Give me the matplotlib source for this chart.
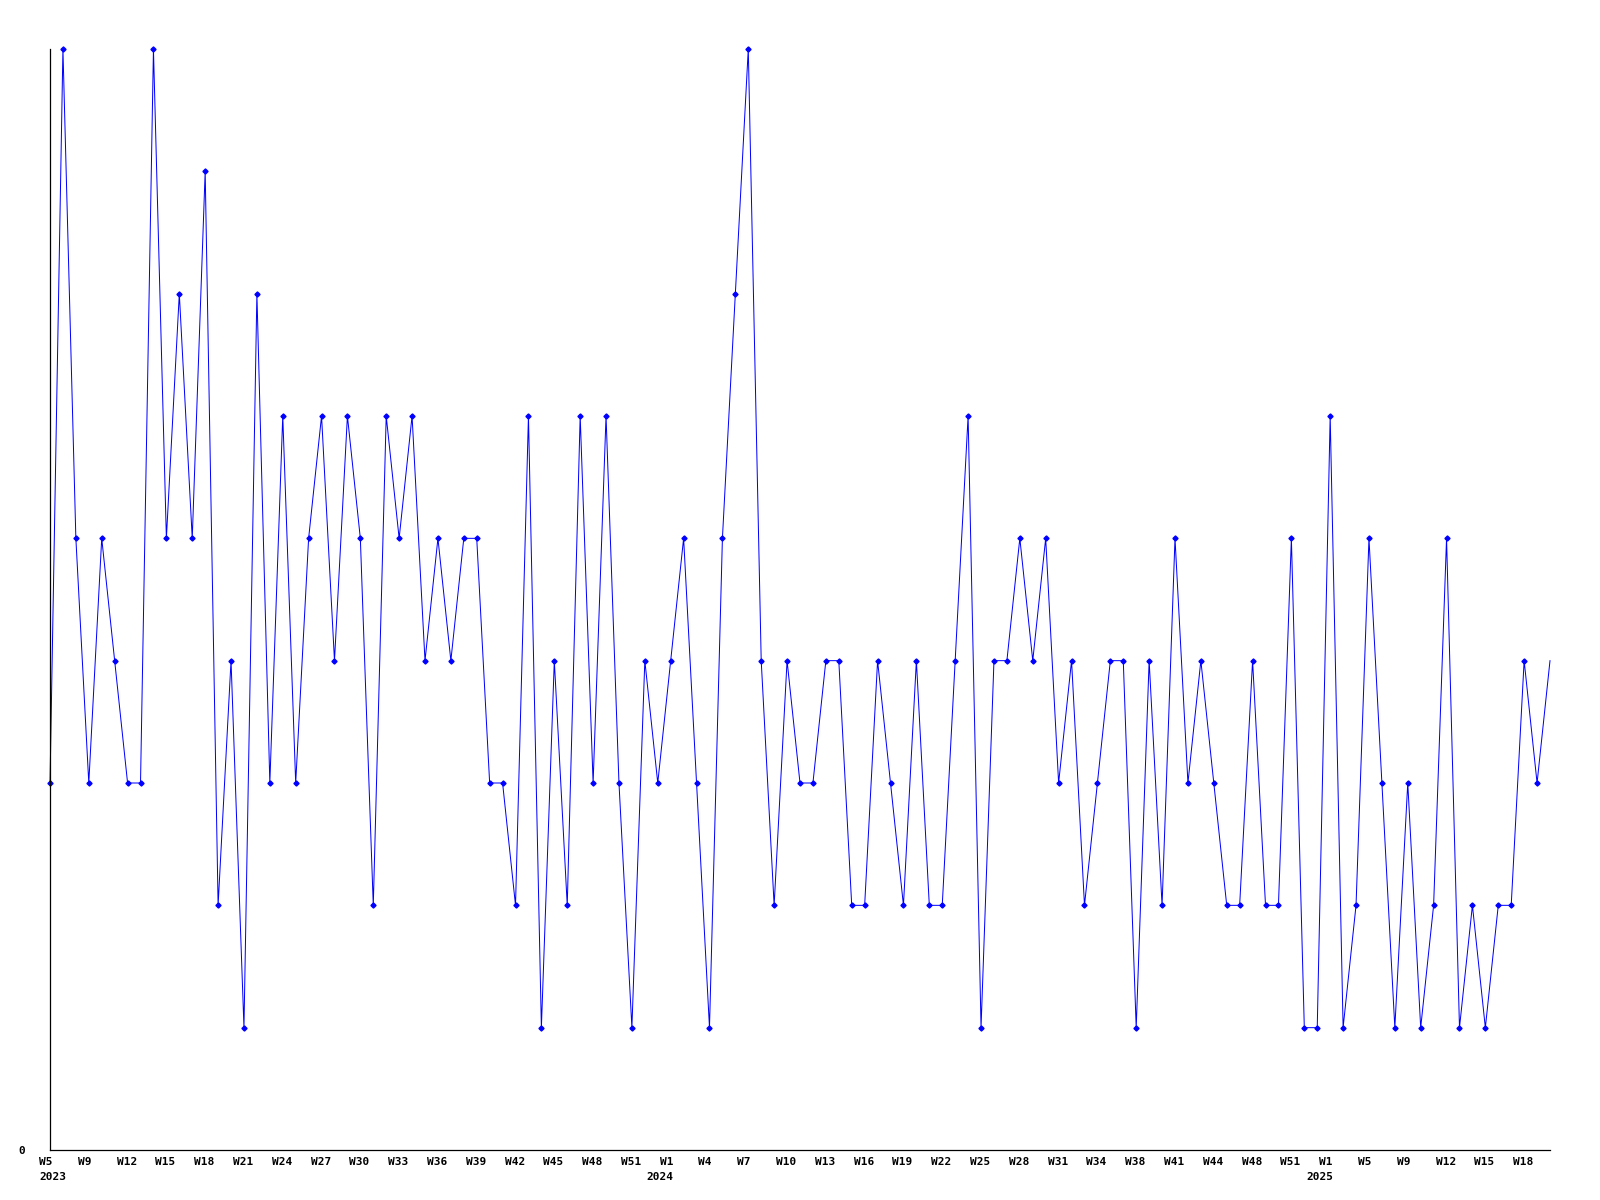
import matplotlib
matplotlib.use("Agg")
from matplotlib import pyplot as plt

# weekly counts, first point = 2023 W5
values = [3, 9, 5, 3, 5, 4, 3, 3, 9, 5,
          7, 5, 8, 2, 4, 1, 7, 3, 6, 3,
          5, 6, 4, 6, 5, 2, 6, 5, 6, 4,
          5, 4, 5, 5, 3, 3, 2, 6, 1, 4,
          2, 6, 3, 6, 3, 1, 4, 3, 4, 5,
          3, 1, 5, 7, 9, 4, 2, 4, 3, 3,
          4, 4, 2, 2, 4, 3, 2, 4, 2, 2,
          4, 6, 1, 4, 4, 5, 4, 5, 3, 4,
          2, 3, 4, 4, 1, 4, 2, 5, 3, 4,
          3, 2, 2, 4, 2, 2, 5, 1, 1, 6,
          1, 2, 5, 3, 1, 3, 1, 2, 5, 1,
          2, 1, 2, 2, 4, 3, 4]

week_labels = ["W5", "W9", "W12", "W15", "W18", "W21", "W24", "W27", "W30", "W33",
               "W36", "W39", "W42", "W45", "W48", "W51",
               "W1", "W4", "W7", "W10", "W13", "W16", "W19", "W22", "W25", "W28",
               "W31", "W34", "W38", "W41", "W44", "W48", "W51",
               "W1", "W5", "W9", "W12", "W15", "W18"]
label_step = 3
years = {0: "2023", 16: "2024", 33: "2025"}

x = list(range(len(values)))

fig = plt.figure(figsize=(16, 12), dpi=100)
ax = fig.add_axes([50 / 1600, 1 - 1150 / 1200, 1500 / 1600, 1101 / 1200])

ax.plot(x, values, color="#0000ff", linewidth=0.72, marker="D", markersize=2.6,
        markevery=slice(0, len(values) - 1), clip_on=False)

ax.set_xlim(0, len(values) - 1)
ax.set_ylim(0, max(values))

for s in ["top", "right"]:
    ax.spines[s].set_visible(False)
for s in ["left", "bottom"]:
    ax.spines[s].set_color("black")
    ax.spines[s].set_linewidth(0.9)

ax.set_xticks([])
ax.set_yticks([0])
ax.set_yticklabels(["0"], fontfamily="DejaVu Sans Mono", fontweight="bold", fontsize=8)
ax.tick_params(axis="y", length=0, pad=18)

font = dict(fontfamily="DejaVu Sans Mono", fontweight="bold", fontsize=8)
for i, lab in enumerate(week_labels):
    pos = i * label_step
    ax.annotate(lab, xy=(pos, 0), xycoords=("data", "axes fraction"),
                xytext=(-11, -12), textcoords="offset pixels",
                ha="left", va="center", annotation_clip=False, **font)
    if i in years:
        dx = -11 if i == 0 else -24
        ax.annotate(years[i], xy=(pos, 0), xycoords=("data", "axes fraction"),
                    xytext=(dx, -27), textcoords="offset pixels",
                    ha="left", va="center", annotation_clip=False, **font)

fig.savefig("out.png", dpi=100, facecolor="white")
